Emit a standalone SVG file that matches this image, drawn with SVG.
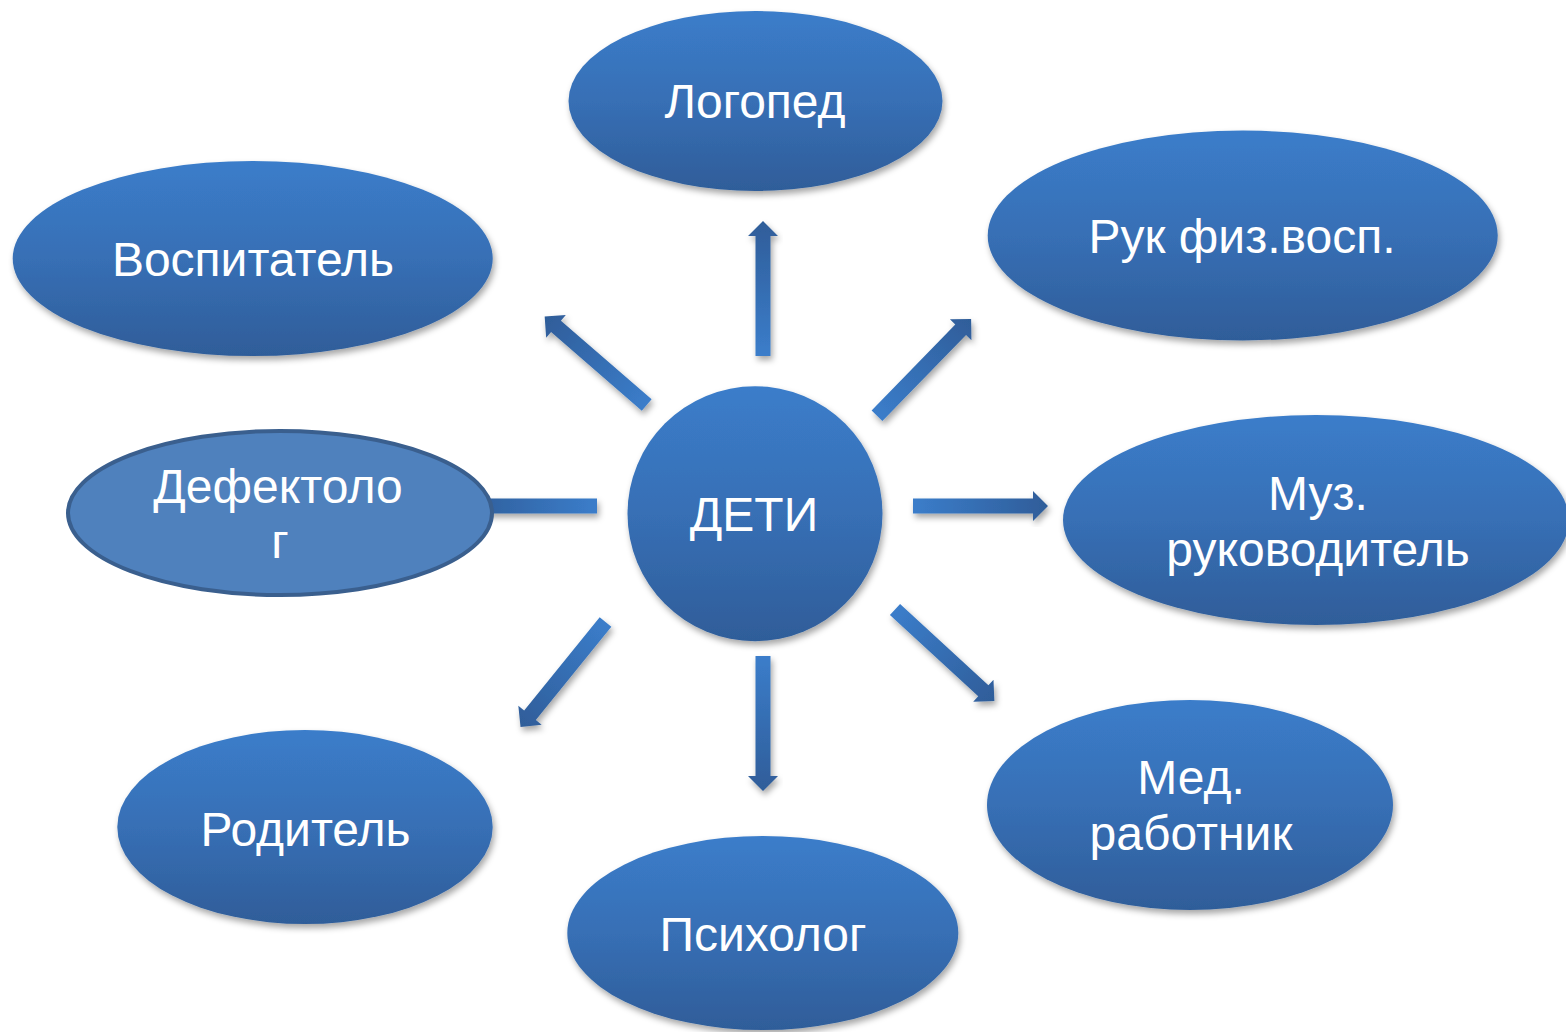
<svg xmlns="http://www.w3.org/2000/svg" width="1566" height="1032" viewBox="0 0 1566 1032">
<defs>
<linearGradient id="nodeGrad" x1="0" y1="0" x2="0" y2="1">
<stop offset="0" stop-color="#3b7dca"/>
<stop offset="0.5" stop-color="#376fb5"/>
<stop offset="1" stop-color="#2f5d99"/>
</linearGradient>
<linearGradient id="arrowGrad" x1="0" y1="0" x2="1" y2="0">
<stop offset="0" stop-color="#3b7dca"/>
<stop offset="1" stop-color="#2f5d99"/>
</linearGradient>
<filter id="shadow" x="-10%" y="-10%" width="125%" height="130%">
<feDropShadow dx="2" dy="4" stdDeviation="3" flood-color="#000" flood-opacity="0.35"/>
</filter>
<polygon id="arr" points="0,-7.5 120,-7.5 120,-15 135,0 120,15 120,7.5 0,7.5"/>
</defs>
<style>
.node{fill:url(#nodeGrad);filter:url(#shadow);}
.lbl{font-family:"Liberation Sans",Arial,sans-serif;font-size:48px;fill:#fff;text-anchor:middle;}
.arrow{fill:url(#arrowGrad);}
</style>
<rect width="1566" height="1032" fill="#fff"/>
<g id="connectors">
<g filter="url(#shadow)"><use href="#arr" class="arrow" transform="translate(763,356) rotate(-90)"/></g>
<g filter="url(#shadow)"><use href="#arr" class="arrow" transform="translate(646.7,405) rotate(-139.1)"/></g>
<g filter="url(#shadow)"><use href="#arr" class="arrow" transform="translate(877,415.7) rotate(-45.8)"/></g>
<g filter="url(#shadow)"><use href="#arr" class="arrow" transform="translate(913,506)"/></g>
<g filter="url(#shadow)"><use href="#arr" class="arrow" transform="translate(895,609.5) rotate(42.6)"/></g>
<g filter="url(#shadow)"><use href="#arr" class="arrow" transform="translate(763,656) rotate(90)"/></g>
<g filter="url(#shadow)"><use href="#arr" class="arrow" transform="translate(605.5,622) rotate(129)"/></g>
<g filter="url(#shadow)"><use href="#arr" class="arrow" transform="translate(597,506) rotate(180)"/></g>
</g>
<g id="logoped"><ellipse class="node" cx="755.5" cy="101" rx="187" ry="90"/><text class="lbl" x="755" y="118">Логопед</text></g>
<g id="vospitatel"><ellipse class="node" cx="252.7" cy="258.5" rx="240" ry="97.5"/><text class="lbl" x="253" y="276">Воспитатель</text></g>
<g id="rukfiz"><ellipse class="node" cx="1242.7" cy="235.5" rx="255" ry="105"/><text class="lbl" x="1242" y="253">Рук физ.восп.</text></g>
<g id="defektolog"><ellipse cx="280" cy="513" rx="212" ry="82" fill="#4f81bd" stroke="#3a5f8e" stroke-width="4"/><text class="lbl" x="278" y="503">Дефектоло</text><text class="lbl" x="280" y="558">г</text></g>
<g id="deti"><circle class="node" cx="755" cy="513.7" r="127.5"/><text class="lbl" x="754" y="531">ДЕТИ</text></g>
<g id="muz"><ellipse class="node" cx="1316" cy="520" rx="253" ry="105"/><text class="lbl" x="1318" y="510">Муз.</text><text class="lbl" x="1318" y="566">руководитель</text></g>
<g id="med"><ellipse class="node" cx="1190" cy="805" rx="203" ry="105"/><text class="lbl" x="1191" y="794">Мед.</text><text class="lbl" x="1191" y="850">работник</text></g>
<g id="roditel"><ellipse class="node" cx="305" cy="827" rx="187.7" ry="97"/><text class="lbl" x="305.5" y="846">Родитель</text></g>
<g id="psiholog"><ellipse class="node" cx="762.8" cy="933" rx="195.5" ry="97"/><text class="lbl" x="763" y="951">Психолог</text></g>
</svg>
